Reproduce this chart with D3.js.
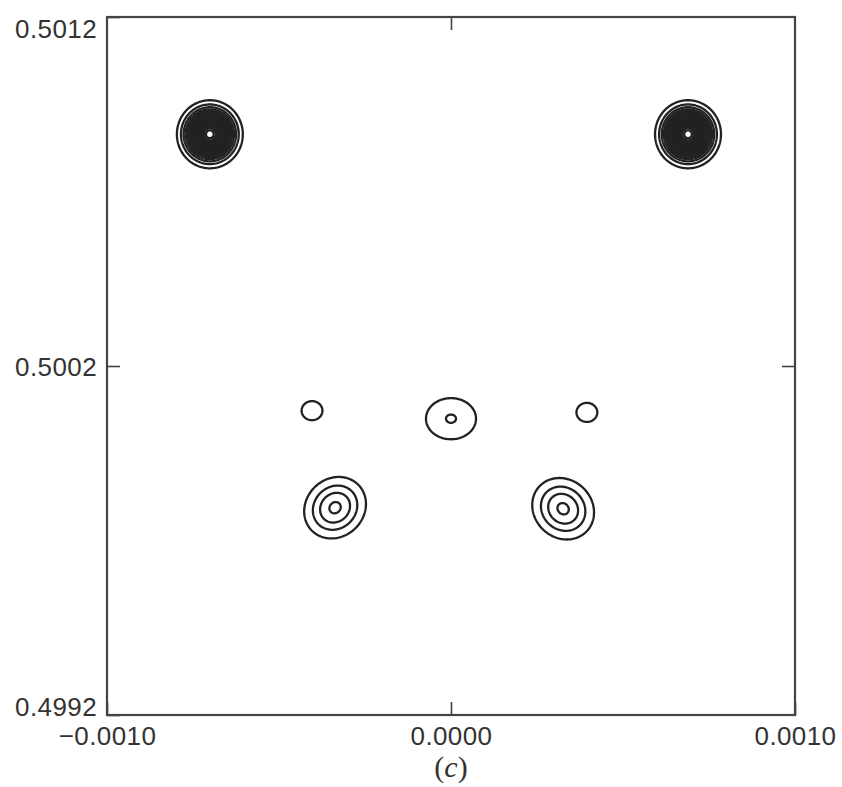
<!DOCTYPE html>
<meta charset="utf-8">
<head>
  <script src="https://d3js.org/d3.v7.min.js"></script>
  <style>
    body { margin: 0; background: #fff; }
    .tick text { font-family: "Liberation Sans", Arial, sans-serif; font-size: 26px; letter-spacing: 0.4px; fill: #333; }
    .domain { display: none; }
    .tick line { stroke: #444; stroke-width: 1.6; }
  </style>
</head>
<body>
<script>
// peaks of the field (data units): centre, height, spread, tilt
const peakX   = [-0.000701, 0.000689, -0.000404, 0.000000, 0.000395, -0.000337, 0.000326];
const peakY   = [0.500864, 0.500864, 0.500072, 0.500049, 0.500067, 0.499794, 0.499791];
const peakAmp = [19.8, 19.8, 1.4, 2.06, 1.4, 4.2, 4.2];
const peakSx  = [3.92e-5, 3.92e-5, 3.7e-5, 6.05e-5, 3.7e-5, 5.3e-5, 5.3e-5];
const peakSy  = [3.99e-5, 3.99e-5, 3.33e-5, 4.9e-5, 3.33e-5, 5.2e-5, 5.2e-5];
const peakRho = [0, 0, 0, 0, 0, 0.12, -0.12];

const levels = d3.range(1, 20);
const xTicks = [-0.0010, 0.0000, 0.0010];
const yTicks = [0.4992, 0.5002, 0.5012];

const margin = {top: 17, right: 47, bottom: 72, left: 107};
const W = 842, H = 787;
const w = W - margin.left - margin.right;   // 688
const h = H - margin.top - margin.bottom;   // 698

const x = d3.scaleLinear().domain([-0.0010, 0.0010]).range([0, w]);
const y = d3.scaleLinear().domain([0.4992, 0.5012]).range([h, 0]);

const svg = d3.select("body").append("svg")
  .attr("width", W).attr("height", H);
const g = svg.append("g").attr("transform", `translate(${margin.left},${margin.top})`);

// sample the field on a 1px grid
const n = w, m = h;
const values = new Float64Array(n * m);
for (let j = 0; j < m; j++) {
  const yv = y.invert(j + 0.5);
  for (let i = 0; i < n; i++) {
    const xv = x.invert(i + 0.5);
    let s = 0;
    for (let k = 0; k < peakX.length; k++) {
      const u = (xv - peakX[k]) / peakSx[k];
      const v = (yv - peakY[k]) / peakSy[k];
      const r = peakRho[k];
      s += peakAmp[k] * Math.exp(-(u * u - 2 * r * u * v + v * v) / (2 * (1 - r * r)));
    }
    values[j * n + i] = s;
  }
}

const contours = d3.contours().size([n, m]).thresholds(levels)(values);

g.append("clipPath").attr("id", "clip")
  .append("rect").attr("width", w).attr("height", h);

g.append("g")
  .attr("clip-path", "url(#clip)")
  .selectAll("path")
  .data(contours)
  .join("path")
  .attr("d", d3.geoPath())
  .attr("fill", "none")
  .attr("stroke", "#222")
  .attr("stroke-width", 2.3)
  .attr("stroke-linejoin", "round");

// frame
g.append("rect")
  .attr("width", w).attr("height", h)
  .attr("fill", "none").attr("stroke", "#444").attr("stroke-width", 2.2);

// axes
g.append("g")
  .attr("transform", `translate(0,${h})`)
  .call(d3.axisBottom(x).tickValues(xTicks).tickSize(-13).tickPadding(12).tickFormat(d3.format(".4f")))
  .call(s => s.selectAll("text").text(d => d3.format(".4f")(d).replace("-", "\u2212")));

g.append("g")
  .call(d3.axisTop(x).tickValues([0]).tickSize(-13).tickFormat(""));

g.append("g")
  .call(d3.axisLeft(y).tickValues(yTicks).tickSize(-13).tickPadding(10).tickFormat(d3.format(".4f")))
  .call(s => s.selectAll("text").attr("dy", d => d === 0.5012 ? "0.78em" : d === 0.4992 ? "0" : "0.37em"));

g.append("g")
  .attr("transform", `translate(${w},0)`)
  .call(d3.axisRight(y).tickValues([0.5002]).tickSize(-13).tickFormat(""));

// panel label
const lab = svg.append("text")
  .attr("x", margin.left + x(0))
  .attr("y", 777)
  .attr("text-anchor", "middle")
  .style("font-family", "'Liberation Serif', 'Times New Roman', serif")
  .style("font-size", "30px")
  .style("fill", "#333");
lab.append("tspan").text("(");
lab.append("tspan").style("font-style", "italic").text("c");
lab.append("tspan").text(")");
</script>
</body>
</html>
